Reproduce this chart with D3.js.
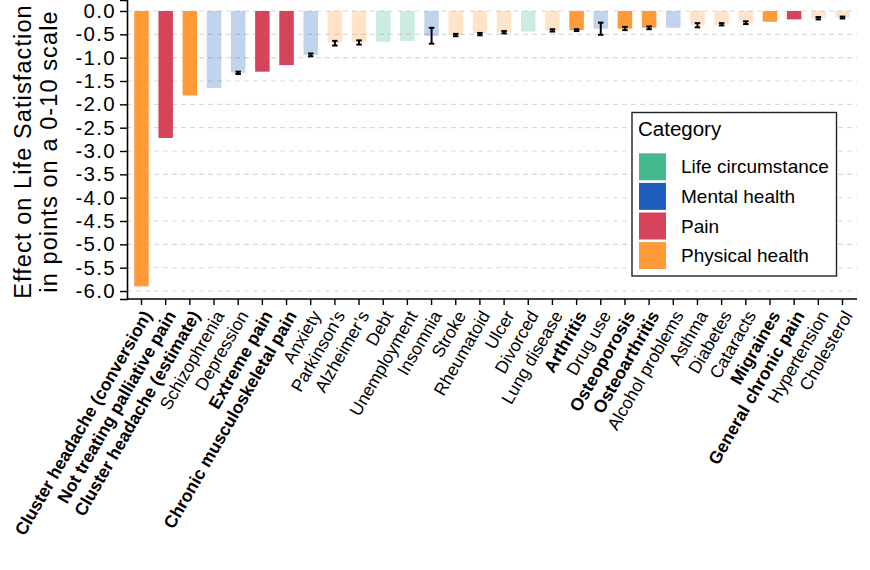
<!DOCTYPE html>
<html><head><meta charset="utf-8">
<script src="https://cdn.jsdelivr.net/npm/d3@7"></script>
<style>
html,body{margin:0;padding:0;background:#fff;}
text{font-family:"Liberation Sans",Arial,Helvetica,sans-serif;}
</style></head>
<body><svg id="chart" width="870" height="570"></svg>
<script>
const categories = ["Cluster headache (conversion)","Not treating palliative pain","Cluster headache (estimate)","Schizophrenia","Depression","Extreme pain","Chronic musculoskeletal pain","Anxiety","Parkinson’s","Alzheimer’s","Debt","Unemployment","Insomnia","Stroke","Rheumatoid","Ulcer","Divorced","Lung disease","Arthritis","Drug use","Osteoporosis","Osteoarthritis","Alcohol problems","Asthma","Diabetes","Cataracts","Migraines","General chronic pain","Hypertension","Cholesterol"];
const groups = ["Physical health","Pain","Physical health","Mental health","Mental health","Pain","Pain","Mental health","Physical health","Physical health","Life circumstance","Life circumstance","Mental health","Physical health","Physical health","Physical health","Life circumstance","Physical health","Physical health","Mental health","Physical health","Physical health","Mental health","Physical health","Physical health","Physical health","Physical health","Pain","Physical health","Physical health"];
const highlighted = [1,1,1,0,0,1,1,0,0,0,0,0,0,0,0,0,0,0,1,0,1,1,0,0,0,0,1,1,0,0];
const values = [-5.90,-2.72,-1.81,-1.65,-1.32,-1.30,-1.16,-0.94,-0.68,-0.67,-0.66,-0.64,-0.53,-0.51,-0.49,-0.46,-0.44,-0.42,-0.41,-0.38,-0.38,-0.36,-0.36,-0.30,-0.29,-0.25,-0.23,-0.18,-0.16,-0.14];
const errLow = [null,null,null,null,-1.35,null,null,-0.97,-0.74,-0.72,null,null,-0.70,-0.54,-0.52,-0.48,null,-0.44,-0.43,-0.51,-0.41,-0.39,null,-0.35,-0.31,-0.28,null,null,-0.18,-0.16];
const errHigh = [null,null,null,null,-1.30,null,null,-0.91,-0.64,-0.63,null,null,-0.36,-0.49,-0.47,-0.43,null,-0.39,-0.39,-0.25,-0.34,-0.33,null,-0.26,-0.26,-0.22,null,null,-0.13,-0.12];
const yTicks = [0,-0.5,-1,-1.5,-2,-2.5,-3,-3.5,-4,-4.5,-5,-5.5,-6];
const legendGroups = ["Life circumstance","Mental health","Pain","Physical health"];
const groupColors = ["#45B98B","#1F5EBD","#D6445B","#FE9A37"];

const svg = d3.select("#chart");
const pLeft = 127, pRight = 857, pTop = 0, pBottom = 299;

const x = d3.scaleBand().domain(categories).range([pLeft, pRight]).paddingInner(0.4).paddingOuter(0.3);
const y = d3.scaleLinear().domain([-6.171, 0.2357]).range([pBottom, pTop]);
const color = d3.scaleOrdinal().domain(legendGroups).range(groupColors);

const data = categories.map((c,i)=>({c, g:groups[i], h:highlighted[i], v:values[i], lo:errLow[i], hi:errHigh[i]}));

// grid
svg.append("g").selectAll("line").data(yTicks).join("line")
  .attr("x1", pLeft).attr("x2", pRight)
  .attr("y1", d=>y(d)).attr("y2", d=>y(d))
  .attr("stroke", "#d9d9d9").attr("stroke-width", 1.1).attr("stroke-dasharray", "5,4");

// bars
svg.append("g").selectAll("rect").data(data).join("rect")
  .attr("x", d=>x(d.c)).attr("width", x.bandwidth())
  .attr("y", y(0)).attr("height", d=>y(d.v)-y(0))
  .attr("fill", d=>color(d.g)).attr("fill-opacity", d=>d.h?1:0.27);

// error bars
const eb = data.filter(d=>d.lo!==null);
const cw = 5.5;
const eg = svg.append("g").attr("stroke","#000").attr("stroke-width",2);
eg.selectAll("line.v").data(eb).join("line").attr("class","v")
  .attr("x1", d=>x(d.c)+x.bandwidth()/2).attr("x2", d=>x(d.c)+x.bandwidth()/2)
  .attr("y1", d=>y(d.hi)).attr("y2", d=>y(d.lo));
eg.selectAll("line.t").data(eb).join("line").attr("class","t")
  .attr("x1", d=>x(d.c)+x.bandwidth()/2-cw/2).attr("x2", d=>x(d.c)+x.bandwidth()/2+cw/2)
  .attr("y1", d=>y(d.hi)).attr("y2", d=>y(d.hi));
eg.selectAll("line.b").data(eb).join("line").attr("class","b")
  .attr("x1", d=>x(d.c)+x.bandwidth()/2-cw/2).attr("x2", d=>x(d.c)+x.bandwidth()/2+cw/2)
  .attr("y1", d=>y(d.lo)).attr("y2", d=>y(d.lo));

// y axis
const yAxis = svg.append("g").attr("transform", `translate(${pLeft},0)`)
  .call(d3.axisLeft(y).tickValues(yTicks).tickFormat(d3.format(".1f")).tickSizeOuter(0).tickSize(7).tickPadding(4));
yAxis.select(".domain").attr("stroke","#000").attr("stroke-width",1.6);
yAxis.selectAll(".tick line").attr("stroke","#000").attr("stroke-width",1.4);
yAxis.selectAll(".tick text").attr("font-size", 20.5).attr("fill","#000").attr("letter-spacing", 1.3)
  .attr("font-family","Liberation Sans, Arial, sans-serif").text(d=>d3.format(".1f")(d).replace("−","-"));

// x axis
const xAxis = svg.append("g").attr("transform", `translate(0,${pBottom})`)
  .call(d3.axisBottom(x).tickSizeOuter(0).tickSize(6));
xAxis.select(".domain").attr("stroke","#000").attr("stroke-width",1.6).attr("d", `M${pLeft},0H${pRight}`);
xAxis.selectAll(".tick line").attr("stroke","#000").attr("stroke-width",1.4);
xAxis.selectAll(".tick text").remove();
const fsX = 17.5;
xAxis.selectAll(".tick").append("text")
  .attr("text-anchor","end")
  .attr("transform", `translate(${0.866*12.5},${10+0.5*12.5}) rotate(-60)`)
  .attr("font-size", fsX).attr("fill","#000")
  .attr("font-family","Liberation Sans, Arial, sans-serif")
  .attr("font-weight", (d,i)=>highlighted[i]?"bold":"normal")
  .text(d=>d);

// y title
const yt = svg.append("text").attr("transform", `translate(0,${(pTop+pBottom)/2+2}) rotate(-90)`)
  .attr("text-anchor","middle").attr("font-size", 23.5).attr("fill","#000").attr("letter-spacing",1.1);
yt.append("tspan").attr("x",0).attr("y",31).text("Effect on Life Satisfaction");
yt.append("tspan").attr("x",0).attr("y",57).text("in points on a 0-10 scale");

// legend
const lg = svg.append("g");
lg.append("rect").attr("x",632).attr("y",112.5).attr("width",204.5).attr("height",163.5)
  .attr("fill","#fff").attr("stroke","#222").attr("stroke-width",1.4);
lg.append("text").attr("x",638).attr("y",136).attr("font-size",20.5).attr("fill","#000").text("Category");
const li = lg.selectAll("g.item").data(legendGroups).join("g").attr("class","item")
  .attr("transform",(d,i)=>`translate(639,${153.3+i*29.6})`);
li.append("rect").attr("width",27).attr("height",27).attr("fill",d=>color(d));
li.append("text").attr("x",42).attr("y",13.5).attr("dy","0.35em").attr("font-size",19).attr("fill","#000").text(d=>d);
</script></body></html>
